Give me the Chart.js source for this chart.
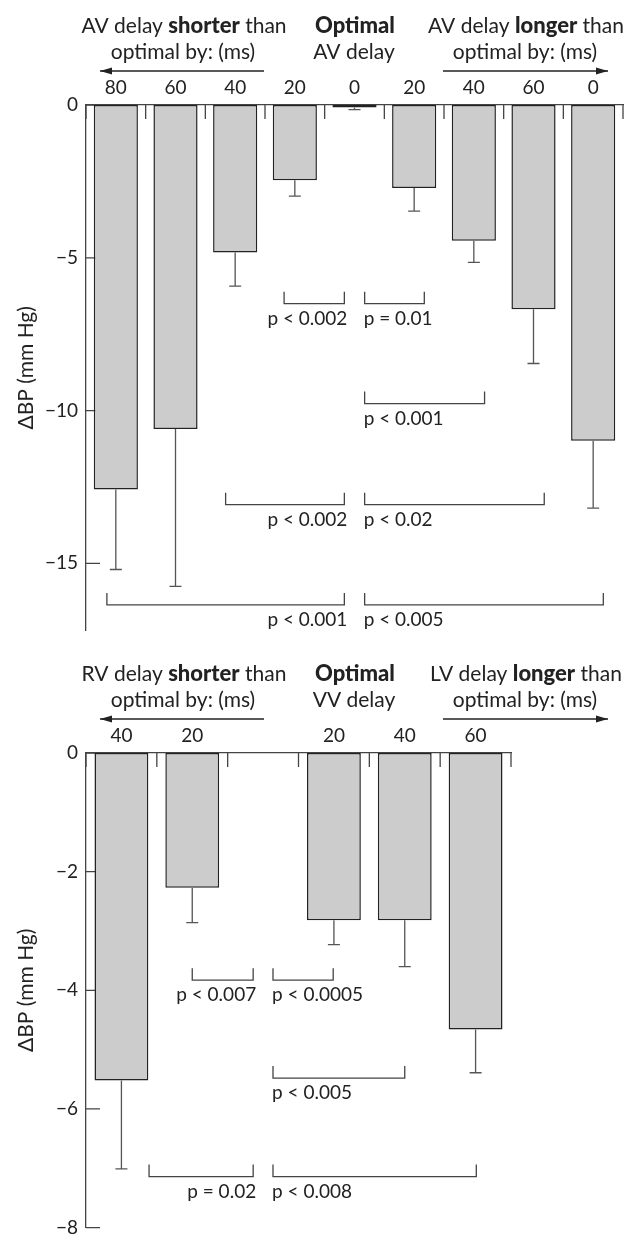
<!DOCTYPE html>
<html lang="en">
<head>
<meta charset="UTF-8">
<title>Change in blood pressure vs AV and VV delay</title>
<script src="https://cdn.jsdelivr.net/npm/chart.js"></script>
<style>
  body { margin: 0; background: #fff; }
  canvas { display: block; }
</style>
</head>
<body>
<canvas id="avChart" width="626" height="650"></canvas>
<canvas id="vvChart" width="626" height="597"></canvas>
<script>
// ---- top panel: AV delay ----
const avLabels = ['80', '60', '40', '20', '0', '20', '40', '60', '0'];
const avValues = [-12.58, -10.6, -4.83, -2.46, -0.08, -2.72, -4.44, -6.68, -10.99];
const avErrors = [2.62, 5.15, 1.1, 0.52, 0.07, 0.75, 0.71, 1.78, 2.2];
const avTicks = [0, -5, -10, -15];
// brackets: category positions (fractional index), level in mm Hg, p value text
const avBrackets = [
  { from: 2.82, to: 3.83, level: -6.5, text: 'p < 0.002', side: 'left' },
  { from: 4.17, to: 5.17, level: -6.5, text: 'p = 0.01', side: 'right' },
  { from: 4.17, to: 6.18, level: -9.77, text: 'p < 0.001', side: 'right' },
  { from: 1.84, to: 3.83, level: -13.08, text: 'p < 0.002', side: 'left' },
  { from: 4.17, to: 7.18, level: -13.08, text: 'p < 0.02', side: 'right' },
  { from: -0.15, to: 3.83, level: -16.36, text: 'p < 0.001', side: 'left' },
  { from: 4.17, to: 8.17, level: -16.36, text: 'p < 0.005', side: 'right' }
];
const avHeadLeft = [['AV delay ', false], ['shorter', true], [' than', false]];
const avHeadMid = [['Optimal', true]];
const avHeadRight = [['AV delay ', false], ['longer', true], [' than', false]];
const avSubLeft = 'optimal by: (ms)';
const avSubMid = 'AV delay';
const avSubRight = 'optimal by: (ms)';

// ---- bottom panel: VV delay ----
const vvLabels = ['40', '20', '', '20', '40', '60'];
const vvValues = [-5.52, -2.27, null, -2.82, -2.82, -4.66];
const vvErrors = [1.49, 0.59, null, 0.41, 0.78, 0.73];
const vvTicks = [0, -2, -4, -6, -8];
const vvBrackets = [
  { from: 1.0, to: 1.86, level: -3.83, text: 'p < 0.007', side: 'left' },
  { from: 2.14, to: 2.99, level: -3.83, text: 'p < 0.0005', side: 'right' },
  { from: 2.14, to: 4.0, level: -5.48, text: 'p < 0.005', side: 'right' },
  { from: 0.39, to: 1.86, level: -7.14, text: 'p = 0.02', side: 'left' },
  { from: 2.14, to: 5.01, level: -7.14, text: 'p < 0.008', side: 'right' }
];
const vvHeadLeft = [['RV delay ', false], ['shorter', true], [' than', false]];
const vvHeadMid = [['Optimal', true]];
const vvHeadRight = [['LV delay ', false], ['longer', true], [' than', false]];
const vvSubLeft = 'optimal by: (ms)';
const vvSubMid = 'VV delay';
const vvSubRight = 'optimal by: (ms)';

const FONT = "Lato, 'Noto Sans', sans-serif";
const INK = '#222';
const LINE = '#444';

function fmtTick(v) {
  return v === 0 ? '0' : '\u2212' + Math.abs(v);
}

function drawRich(ctx, parts, cx, y) {
  const fontOf = bold => (bold ? '900 22px ' : '400 21px ') + FONT;
  let total = 0;
  parts.forEach(p => { ctx.font = fontOf(p[1]); total += ctx.measureText(p[0]).width; });
  let x = cx - total / 2;
  ctx.textAlign = 'left';
  parts.forEach(p => {
    ctx.font = fontOf(p[1]);
    ctx.fillText(p[0], x, y);
    x += ctx.measureText(p[0]).width;
  });
}

function drawArrow(ctx, x1, x2, y, headAtLeft) {
  ctx.beginPath();
  ctx.moveTo(x1, y);
  ctx.lineTo(x2, y);
  ctx.stroke();
  const hx = headAtLeft ? x1 : x2;
  const dir = headAtLeft ? 1 : -1;
  ctx.beginPath();
  ctx.moveTo(hx, y);
  ctx.lineTo(hx + dir * 12, y - 3.5);
  ctx.lineTo(hx + dir * 12, y + 3.5);
  ctx.closePath();
  ctx.fill();
}

function makeDeco(cfg) {
  return {
    id: 'deco',
    beforeDatasetsDraw(chart) {
      const { ctx, chartArea: a, scales: { x, y } } = chart;
      ctx.save();
      ctx.strokeStyle = LINE;
      ctx.lineWidth = 1.3;
      ctx.beginPath();
      cfg.ticks.forEach(v => {
        const py = y.getPixelForValue(v);
        ctx.moveTo(a.left, py);
        ctx.lineTo(a.left + 14, py);
      });
      for (let i = 0; i <= cfg.labels.length; i++) {
        const px = x.getPixelForValue(i - 0.5);
        ctx.moveTo(px, a.top);
        ctx.lineTo(px, a.top + 14);
      }
      ctx.stroke();
      ctx.restore();
    },
    afterDatasetsDraw(chart) {
      const { ctx, chartArea: a, scales: { x, y } } = chart;
      const meta = chart.getDatasetMeta(0);
      ctx.save();

      // error bars (downwards only)
      ctx.strokeStyle = '#555';
      ctx.lineWidth = 1.3;
      cfg.values.forEach((v, i) => {
        if (v === null) return;
        const bx = meta.data[i].x;
        const y0 = y.getPixelForValue(v);
        const y1 = y.getPixelForValue(v - cfg.errors[i]);
        ctx.beginPath();
        ctx.moveTo(bx, y0);
        ctx.lineTo(bx, y1);
        ctx.moveTo(bx - 6, y1);
        ctx.lineTo(bx + 6, y1);
        ctx.stroke();
      });

      // significance brackets
      ctx.strokeStyle = LINE;
      ctx.fillStyle = INK;
      ctx.font = '19px ' + FONT;
      ctx.textBaseline = 'alphabetic';
      cfg.brackets.forEach(b => {
        const x1 = x.getPixelForValue(b.from);
        const x2 = x.getPixelForValue(b.to);
        const py = y.getPixelForValue(b.level);
        ctx.beginPath();
        ctx.moveTo(x1, py - 12);
        ctx.lineTo(x1, py);
        ctx.lineTo(x2, py);
        ctx.lineTo(x2, py - 12);
        ctx.stroke();
        if (b.side === 'left') {
          ctx.textAlign = 'right';
          ctx.fillText(b.text, x2 + 3, py + 21);
        } else {
          ctx.textAlign = 'left';
          ctx.fillText(b.text, x1 - 1, py + 21);
        }
      });

      // header text and arrows
      const t = a.top;
      drawRich(ctx, cfg.head[0], 184, t - 72);
      drawRich(ctx, cfg.head[1], 355, t - 72);
      drawRich(ctx, cfg.head[2], 526, t - 72);
      ctx.font = '21px ' + FONT;
      ctx.textAlign = 'center';
      ctx.fillText(cfg.sub[0], 183, t - 46);
      ctx.fillText(cfg.sub[1], 354, t - 46);
      ctx.fillText(cfg.sub[2], 525, t - 46);
      ctx.strokeStyle = INK;
      ctx.lineWidth = 1.3;
      drawArrow(ctx, 100, 264, t - 34, true);
      drawArrow(ctx, 443, 608, t - 34, false);
      ctx.restore();
    }
  };
}

function buildChart(id, cfg) {
  return new Chart(document.getElementById(id), {
    type: 'bar',
    data: {
      labels: cfg.labels,
      datasets: [{
        data: cfg.values,
        backgroundColor: '#cccccc',
        borderColor: INK,
        borderWidth: 1.5,
        borderSkipped: false,
        barPercentage: cfg.barPct,
        categoryPercentage: 1
      }]
    },
    options: {
      responsive: false,
      animation: false,
      layout: { padding: { top: cfg.padTop, right: cfg.padRight, bottom: cfg.padBottom, left: 0 } },
      plugins: { legend: { display: false }, tooltip: { enabled: false } },
      scales: {
        x: {
          position: 'top',
          grid: { display: false, drawTicks: false },
          border: { color: LINE, width: 1.3 },
          ticks: { padding: 6, color: INK, font: { family: FONT, size: 19 } },
          afterFit: s => { s.height = 30; }
        },
        y: {
          min: cfg.min,
          max: 0,
          grid: { display: false, drawTicks: false },
          border: { color: LINE, width: 1.3 },
          ticks: { padding: 8, color: INK, font: { family: FONT, size: 19 }, callback: v => fmtTick(v) },
          afterBuildTicks: s => { s.ticks = cfg.ticks.map(v => ({ value: v })); },
          afterFit: s => { s.width = 86; },
          title: {
            display: true,
            text: '\u0394BP (mm Hg)',
            color: INK,
            font: { family: FONT, size: 21 },
            padding: { top: 14, bottom: 0 }
          }
        }
      }
    },
    plugins: [makeDeco(cfg)]
  });
}

buildChart('avChart', {
  labels: avLabels, values: avValues, errors: avErrors, ticks: avTicks, brackets: avBrackets,
  head: [avHeadLeft, avHeadMid, avHeadRight], sub: [avSubLeft, avSubMid, avSubRight],
  min: -17.2, barPct: 0.74, padTop: 75, padRight: 3, padBottom: 13
});

buildChart('vvChart', {
  labels: vvLabels, values: vvValues, errors: vvErrors, ticks: vvTicks, brackets: vvBrackets,
  head: [vvHeadLeft, vvHeadMid, vvHeadRight], sub: [vvSubLeft, vvSubMid, vvSubRight],
  min: -8, barPct: 0.76, padTop: 73, padRight: 115, padBottom: 7
});
</script>
</body>
</html>
